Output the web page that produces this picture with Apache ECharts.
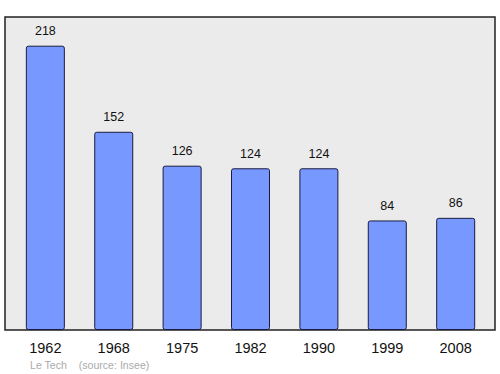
<!DOCTYPE html>
<html><head><meta charset="utf-8">
<script src="https://cdn.jsdelivr.net/npm/echarts@6/dist/echarts.min.js"></script>
<style>html,body{margin:0;padding:0;background:#fff}#c{width:500px;height:374px}</style>
</head><body><div id="c"></div>
<script>
var categories = ['1962','1968','1975','1982','1990','1999','2008'];
var population = [218,152,126,124,124,84,86];
var footer = 'Le Tech    (source: Insee)';

var FONT = 'Liberation Sans, Arial, sans-serif';
var chart = echarts.init(document.getElementById('c'), null, {renderer:'svg'});
chart.setOption({
  animation:false,
  grid:{left:5, top:17, width:490, height:313, show:true, backgroundColor:'#ebebeb', borderColor:'#222', borderWidth:1.5, containLabel:false},
  xAxis:{type:'value', min:-0.59, max:6.575, splitLine:{show:false}, axisTick:{show:false}, axisLine:{show:false},
    axisLabel:{show:true, margin:10, fontSize:14.5, color:'#111', fontFamily:FONT,
      customValues: categories.map(function(c,i){return i;}),
      formatter:function(v){ var i=Math.round(v); return categories[i]||''; }}},
  yAxis:{type:'value', min:0, max:240, show:false, splitLine:{show:false}},
  series:[{type:'bar', barWidth:39,
    data: population.map(function(v,i){return [i,v];}),
    itemStyle:{color:'#7799ff', borderColor:'#1a1a40', borderWidth:1, borderRadius:2},
    label:{show:true, position:'top', distance:8, fontSize:12.5, color:'#111', fontFamily:FONT,
      formatter:function(p){return p.value[1];}}
  }],
  graphic:[{type:'text', left:30, top:359, style:{text:footer, fontSize:10.6, fill:'#aaa', fontFamily:FONT}}]
});
</script></body></html>
